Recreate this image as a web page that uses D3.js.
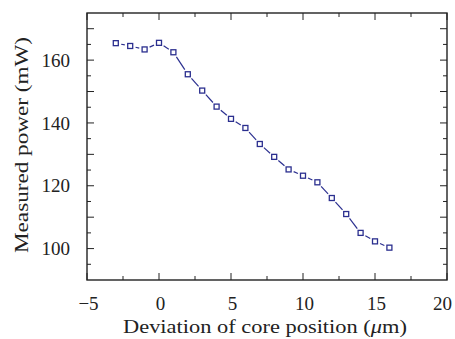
<!DOCTYPE html>
<html>
<head>
<meta charset="utf-8">
<script src="https://cdn.jsdelivr.net/npm/d3@7"></script>
<style>
  body { margin: 0; background: #fff; }
  text { font-family: "Liberation Serif", "DejaVu Serif", serif; fill: #222; }
</style>
</head>
<body>
<div id="chart"></div>
<script>
// data
var deviation = [-3, -2, -1, 0, 1, 2, 3, 4, 5, 6, 7, 8, 9, 10, 11, 12, 13, 14, 15, 16]
var power = [165.4, 164.5, 163.4, 165.5, 162.5, 155.5, 150.3, 145.2, 141.3, 138.4,
             133.3, 129.2, 125.2, 123.2, 121.1, 116.1, 111.0, 105.0, 102.3, 100.3]
var xTicks = [-5, 0, 5, 10, 15, 20]
var yTicks = [100, 120, 140, 160]

var margin = { top: 13, right: 8, bottom: 59, left: 87 }
var width = 455 - margin.left - margin.right,
    height = 339 - margin.top - margin.bottom

var svg = d3.select("#chart").append("svg")
  .attr("width", width + margin.left + margin.right)
  .attr("height", height + margin.top + margin.bottom)
  .append("g")
  .attr("transform", "translate(" + margin.left + "," + margin.top + ")")

const xPositionScale = d3.scaleLinear().domain([-5, 20]).range([0, width])
const yPositionScale = d3.scaleLinear().domain([90, 175]).range([height, 0])
const navy = "#2b2f8f"

// ticks, all pointing inward
var xMinor = d3.range(-5, 20.01, 2.5)
var yMinor = d3.range(95, 175, 5)

function isMajorX(d) { return Math.abs(d % 5) < 1e-6 }
function isMajorY(d) { return d % 10 === 0 }

var ticks = svg.append("g").attr("stroke", "#222").attr("stroke-width", 1)

ticks.selectAll(".xb").data(xMinor).enter().append("line")
  .attr("x1", d => xPositionScale(d)).attr("x2", d => xPositionScale(d))
  .attr("y1", height).attr("y2", d => height - (isMajorX(d) ? 7 : 4))
ticks.selectAll(".xt").data(xMinor).enter().append("line")
  .attr("x1", d => xPositionScale(d)).attr("x2", d => xPositionScale(d))
  .attr("y1", 0).attr("y2", d => isMajorX(d) ? 7 : 4)
ticks.selectAll(".yl").data(yMinor).enter().append("line")
  .attr("y1", d => yPositionScale(d)).attr("y2", d => yPositionScale(d))
  .attr("x1", 0).attr("x2", d => isMajorY(d) ? 7 : 4)
ticks.selectAll(".yr").data(yMinor).enter().append("line")
  .attr("y1", d => yPositionScale(d)).attr("y2", d => yPositionScale(d))
  .attr("x1", width).attr("x2", d => width - (isMajorY(d) ? 7 : 4))

// frame
svg.append("rect")
  .attr("width", width).attr("height", height)
  .attr("fill", "none").attr("stroke", "#222").attr("stroke-width", 1.4)

// tick labels (the last one is pulled in so it fits the page)
var lastX = xTicks[xTicks.length - 1]
svg.selectAll(".xlab").data(xTicks).enter().append("text")
  .attr("x", d => d === lastX ? xPositionScale(d) + 5 : xPositionScale(d) + 1.5)
  .attr("y", height + 30)
  .attr("text-anchor", d => d === lastX ? "end" : "middle")
  .attr("font-size", 19)
  .text(d => d < 0 ? "\u2212" + Math.abs(d) : d)

svg.selectAll(".ylab").data(yTicks).enter().append("text")
  .attr("x", -17)
  .attr("y", d => yPositionScale(d))
  .attr("dy", "0.35em")
  .attr("text-anchor", "end")
  .attr("font-size", 19)
  .text(d => d)

// axis titles (stretched a bit to get the wide TeX look)
var xt = svg.append("text")
  .attr("x", width / 2 - 2)
  .attr("y", height + 53)
  .attr("text-anchor", "middle")
  .attr("font-size", 19.5)
  .attr("textLength", 284)
  .attr("lengthAdjust", "spacingAndGlyphs")
xt.append("tspan").text("Deviation of core position (")
xt.append("tspan").attr("font-style", "italic").text("\u03bc")
xt.append("tspan").text("m)")

svg.append("text")
  .attr("transform", "translate(-59," + (height / 2 - 1.5) + ") rotate(-90)")
  .attr("text-anchor", "middle")
  .attr("font-size", 19.5)
  .attr("textLength", 216)
  .attr("lengthAdjust", "spacingAndGlyphs")
  .text("Measured power (mW)")

// dashed-looking line: each segment pulled back from the markers
var points = deviation.map((d, i) => [xPositionScale(d), yPositionScale(power[i])])
var segs = d3.pairs(points).map(p => {
  var dx = p[1][0] - p[0][0], dy = p[1][1] - p[0][1]
  var len = Math.sqrt(dx * dx + dy * dy), g = 5.5
  return [p[0][0] + dx * g / len, p[0][1] + dy * g / len,
          p[1][0] - dx * g / len, p[1][1] - dy * g / len]
})
svg.selectAll(".seg").data(segs).enter().append("line")
  .attr("x1", d => d[0]).attr("y1", d => d[1])
  .attr("x2", d => d[2]).attr("y2", d => d[3])
  .attr("stroke", navy).attr("stroke-width", 1.2)

svg.selectAll(".pt").data(deviation).enter().append("rect")
  .attr("x", d => xPositionScale(d) - 2.5)
  .attr("y", (d, i) => yPositionScale(power[i]) - 2.5)
  .attr("width", 5).attr("height", 5)
  .attr("fill", "#fff").attr("stroke", navy).attr("stroke-width", 1.3)
</script>
</body>
</html>
